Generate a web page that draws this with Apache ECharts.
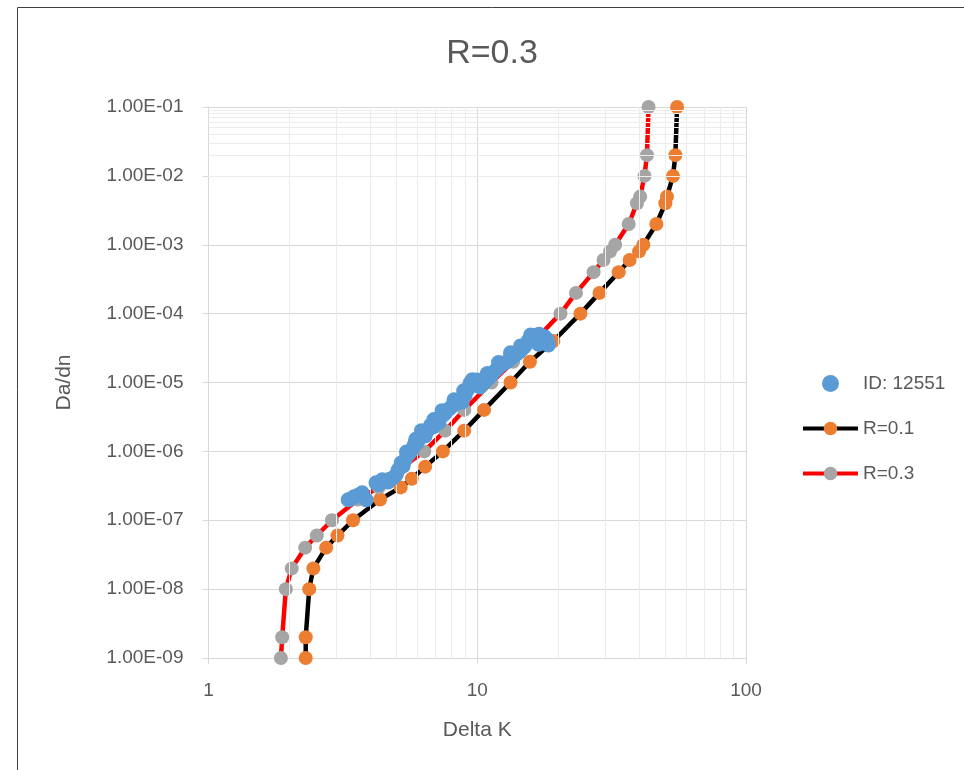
<!DOCTYPE html>
<html>
<head>
<meta charset="utf-8">
<script src="https://cdn.jsdelivr.net/npm/echarts@6/dist/echarts.min.js"></script>
<style>html,body{margin:0;padding:0;background:#fff}#c{width:964px;height:770px}</style>
</head>
<body>
<div id="c"></div>
<script>
// ---- data ----
const titleText = 'R=0.3';
const xName = 'Delta K';
const yName = 'Da/dn';
const seriesNames = ['ID: 12551', 'R=0.1', 'R=0.3'];

// measured points (ID: 12551)
const idDeltaK = [3.31,3.4,3.48,3.6,3.73,3.86,4.20,4.3,4.43,4.55,4.66,4.86,5.0,5.08,5.21,5.3,5.39,5.45,5.53,5.6,5.72,5.82,5.9,5.95,6.03,6.18,6.2,6.3,6.40,6.56,6.7,6.85,6.9,7.09,7.2,7.34,7.4,7.5,7.66,7.9,8.07,8.2,8.42,8.6,8.79,8.9,9.02,9.1,9.25,9.4,9.57,9.6,9.8,10.0,10.25,10.4,10.6,10.8,10.9,11.08,11.3,11.56,11.8,12.0,12.07,12.3,12.6,12.9,13.15,13.3,13.4,13.72,14.0,14.32,14.5,14.6,14.95,15.2,15.47,15.7,15.8,16.0,16.3,16.7,17.0,17.4,17.8,18.1,18.3,18.4,17.7,17.2,16.9];
const idDadn = [1.98e-7,2.05e-7,2.19e-7,2.3e-7,2.5e-7,1.98e-7,3.49e-7,3.3e-7,3.86e-7,3.7e-7,3.6e-7,4.12e-7,4.6e-7,5.39e-7,6.8e-7,6.2e-7,7.5e-7,9.8e-7,8.9e-7,9.5e-7,1.05e-6,1.24e-6,1.5e-6,1.3e-6,1.47e-6,1.62e-6,2.0e-6,1.85e-6,1.68e-6,2.05e-6,2.4e-6,2.27e-6,2.9e-6,2.86e-6,2.6e-6,3.27e-6,3.9e-6,3.4e-6,3.74e-6,4.2e-6,4.57e-6,5.6e-6,5.06e-6,5.5e-6,5.23e-6,7.6e-6,6.6e-6,7.5e-6,8.07e-6,9.8e-6,9.2e-6,1.1e-5,1.0e-5,1.09e-5,8.6e-6,1.0e-5,9.86e-6,1.1e-5,1.35e-5,1.17e-5,1.3e-5,1.43e-5,1.55e-5,1.95e-5,1.68e-5,1.8e-5,1.92e-5,2.0e-5,2.13e-5,2.7e-5,2.3e-5,2.43e-5,2.6e-5,2.78e-5,3.4e-5,3.0e-5,3.29e-5,3.6e-5,4.02e-5,4.3e-5,4.9e-5,4.59e-5,4.8e-5,4.91e-5,5.0e-5,4.75e-5,4.6e-5,4.3e-5,4.0e-5,3.5e-5,3.76e-5,3.9e-5,3.6e-5];

// model curves
const curveDadn = [1e-9,2e-9,1e-8,2e-8,4e-8,6e-8,1e-7,2e-7,3e-7,4e-7,6e-7,1e-6,2e-6,4e-6,1e-5,2e-5,4e-5,1e-4,2e-4,4e-4,6e-4,8e-4,1e-3,2e-3,4e-3,5e-3,1e-2,2e-2,1e-1];
const r01DeltaK = [2.30,2.30,2.37,2.455,2.74,3.02,3.45,4.35,5.19,5.71,6.4,7.45,8.94,10.6,13.3,15.7,19.2,24.2,28.5,33.6,36.9,40.0,41.5,46.4,50.1,50.8,53.5,54.6,55.4];
const r03DeltaK = [1.86,1.88,1.94,2.04,2.29,2.53,2.88,3.6,4.3,4.7,5.3,6.35,7.6,8.95,11.3,13.6,16.3,20.4,23.3,27.1,29.5,31.2,32.6,36.6,39.3,40.4,41.9,42.8,43.4];

// axis ranges and minor gridline positions
const xMin = 1, xMax = 100;
const yMin = 1e-9, yMax = 1e-1;
const xMinorGrid = [2,3,4,5,6,7,8,9,20,30,40,50,60,70,80,90];
const yMinorGrid = [];
for (let e = -9; e < -1; e++) for (let m = 2; m <= 9; m++) yMinorGrid.push(+(m * Math.pow(10, e)).toPrecision(3));

// ---- chart ----
const pairs = (xs, ys) => xs.map((x, i) => [x, ys[i]]);
const txt = '#595959';
const font = 'Liberation Sans';

function sci(v) {
  const s = v.toExponential(2).toUpperCase();
  const [m, e] = s.split('E');
  const n = parseInt(e, 10);
  return m + 'E' + (n < 0 ? '-' : '+') + String(Math.abs(n)).padStart(2, '0');
}

const chart = echarts.init(document.getElementById('c'));
chart.setOption({
  animation: false,
  backgroundColor: '#fff',
  textStyle: { fontFamily: font },
  graphic: [
    { type: 'rect', shape: { x: 17.5, y: 7.5, width: 1000, height: 1000 }, style: { fill: 'none', stroke: '#404040', lineWidth: 1 }, silent: true },
    { type: 'text', x: 492, y: 54, style: { text: titleText, fill: txt, font: '34px "Liberation Sans"', textAlign: 'center', textVerticalAlign: 'middle' } }
  ],
  grid: { left: 208.5, right: 218, top: 107, bottom: 112, containLabel: false },
  legend: {
    data: seriesNames,
    orient: 'vertical',
    left: 796, top: 369,
    itemWidth: 55, itemHeight: 17, itemGap: 26,
    lineStyle: { width: 4 },
    textStyle: { color: txt, fontSize: 19, fontFamily: font }
  },
  xAxis: {
    type: 'log', logBase: 10, min: xMin, max: xMax, interval: 1,
    name: xName, nameLocation: 'middle', nameGap: 62,
    nameTextStyle: { color: txt, fontSize: 21, fontFamily: font },
    axisLine: { show: true, lineStyle: { color: '#d9d9d9', width: 1 } },
    axisTick: { show: true, length: 6, lineStyle: { color: '#d9d9d9' } },
    axisLabel: { color: txt, fontSize: 19, margin: 23, formatter: v => String(Math.round(v)) },
    splitLine: { show: true, lineStyle: { color: '#d9d9d9', width: 1 } }
  },
  yAxis: {
    type: 'log', logBase: 10, min: yMin, max: yMax, interval: 1,
    name: yName, nameLocation: 'middle', nameGap: 134, nameRotate: 90,
    nameTextStyle: { color: txt, fontSize: 21, fontFamily: font },
    axisLine: { show: true, lineStyle: { color: '#d9d9d9', width: 1 } },
    axisTick: { show: true, length: 6, lineStyle: { color: '#d9d9d9' } },
    axisLabel: { color: txt, fontSize: 19, margin: 25, formatter: sci },
    splitLine: { show: true, lineStyle: { color: '#d9d9d9', width: 1 } }
  },
  series: [
    {
      type: 'line', data: [], silent: true, z: 1,
      markLine: {
        silent: true, symbol: 'none', animation: false,
        label: { show: false },
        lineStyle: { color: '#ececec', width: 1, type: 'solid' },
        emphasis: { disabled: true },
        data: xMinorGrid.map(v => ({ xAxis: v })).concat(yMinorGrid.map(v => ({ yAxis: v })))
      }
    },
    {
      name: seriesNames[0], type: 'scatter', z: 5,
      data: pairs(idDeltaK, idDadn),
      symbol: 'circle', symbolSize: 15,
      itemStyle: { color: '#5B9BD5', opacity: 1 }
    },
    {
      name: seriesNames[1], type: 'line', z: 3,
      data: pairs(r01DeltaK, curveDadn),
      symbol: 'circle', symbolSize: 14, showAllSymbol: true,
      lineStyle: { color: '#000000', width: 4.5 },
      itemStyle: { color: '#ED7D31', borderWidth: 0 }
    },
    {
      name: seriesNames[2], type: 'line', z: 4,
      data: pairs(r03DeltaK, curveDadn),
      symbol: 'circle', symbolSize: 14, showAllSymbol: true,
      lineStyle: { color: '#FF0000', width: 4.5 },
      itemStyle: { color: '#A5A5A5', borderWidth: 0 }
    }
  ]
});
</script>
</body>
</html>
